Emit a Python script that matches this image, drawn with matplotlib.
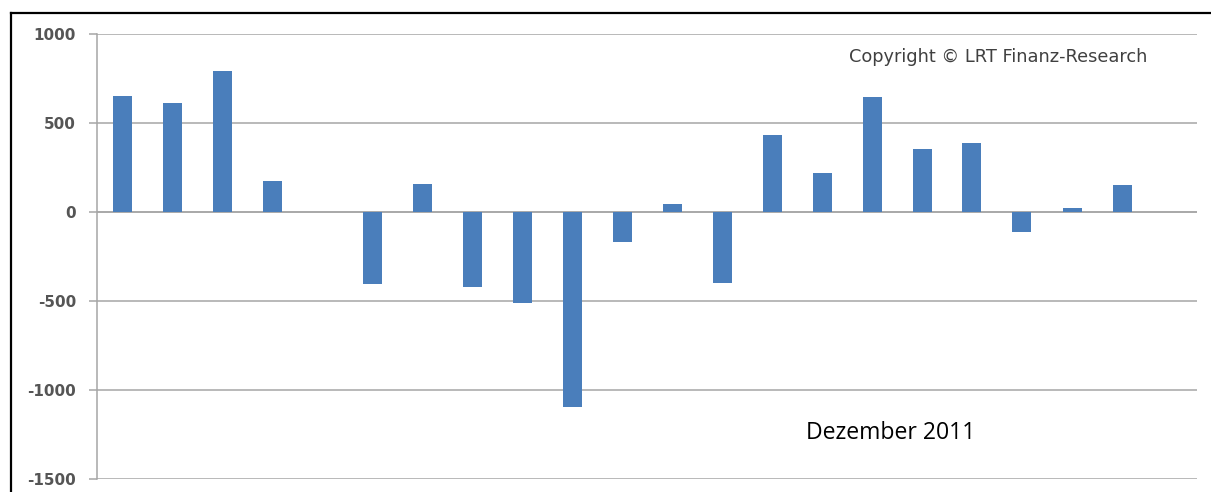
import matplotlib.pyplot as plt
from matplotlib.lines import Line2D

plt.rcParams['axes.unicode_minus'] = False

# monthly values, 22 slots (slot 5 and last slot empty)
slots = list(range(22))
values = [650, 615, 790, 175, 0, -405, 160, -423, -513, -1097, -167,
          45, -397, 435, 217, 648, 356, 389, -114, 21, 150, 0]
yticks = [-1500, -1000, -500, 0, 500, 1000]

fig = plt.figure(figsize=(12.11, 4.92), dpi=100)
ax = fig.add_axes([97/1211, 13/492, 1100/1211, 445/492])

ax.bar(slots, values, width=0.38, color='#4a7ebb', linewidth=0, zorder=3)

ax.set_xlim(-0.5, 21.5)
ax.set_ylim(-1500, 1000)
ax.set_yticks(yticks)
ax.set_xticks([])
ax.grid(axis='y', color='#a6a6a6', linewidth=1.1, zorder=0)
ax.axhline(0, color='#a6a6a6', linewidth=1.1, zorder=2)

for s in ['top', 'right', 'bottom']:
    ax.spines[s].set_visible(False)
ax.spines['left'].set_color('#a6a6a6')
ax.spines['left'].set_linewidth(1.1)
ax.tick_params(axis='y', length=6, width=1.1, color='#a6a6a6', pad=9,
               labelsize=11, labelcolor='#555555')
for lab in ax.get_yticklabels():
    lab.set_fontweight('bold')

ax.text(0.819, 0.948, 'Copyright © LRT Finanz-Research', transform=ax.transAxes,
        ha='center', va='center', fontsize=12.8, family='DejaVu Sans', color='#404040')
ax.text(0.6445, 0.103, 'Dezember 2011', transform=ax.transAxes,
        ha='left', va='center', fontsize=16.6, family='Open Sans', color='black')

# black frame (top and left edges only visible)
fig.add_artist(Line2D([11/1211, 11/1211], [0, 1 - 13/492], color='black', linewidth=1.6,
                      transform=fig.transFigure))
fig.add_artist(Line2D([11/1211, 1], [1 - 13/492, 1 - 13/492], color='black', linewidth=1.6,
                      transform=fig.transFigure))

fig.savefig('out.png', dpi=100)
